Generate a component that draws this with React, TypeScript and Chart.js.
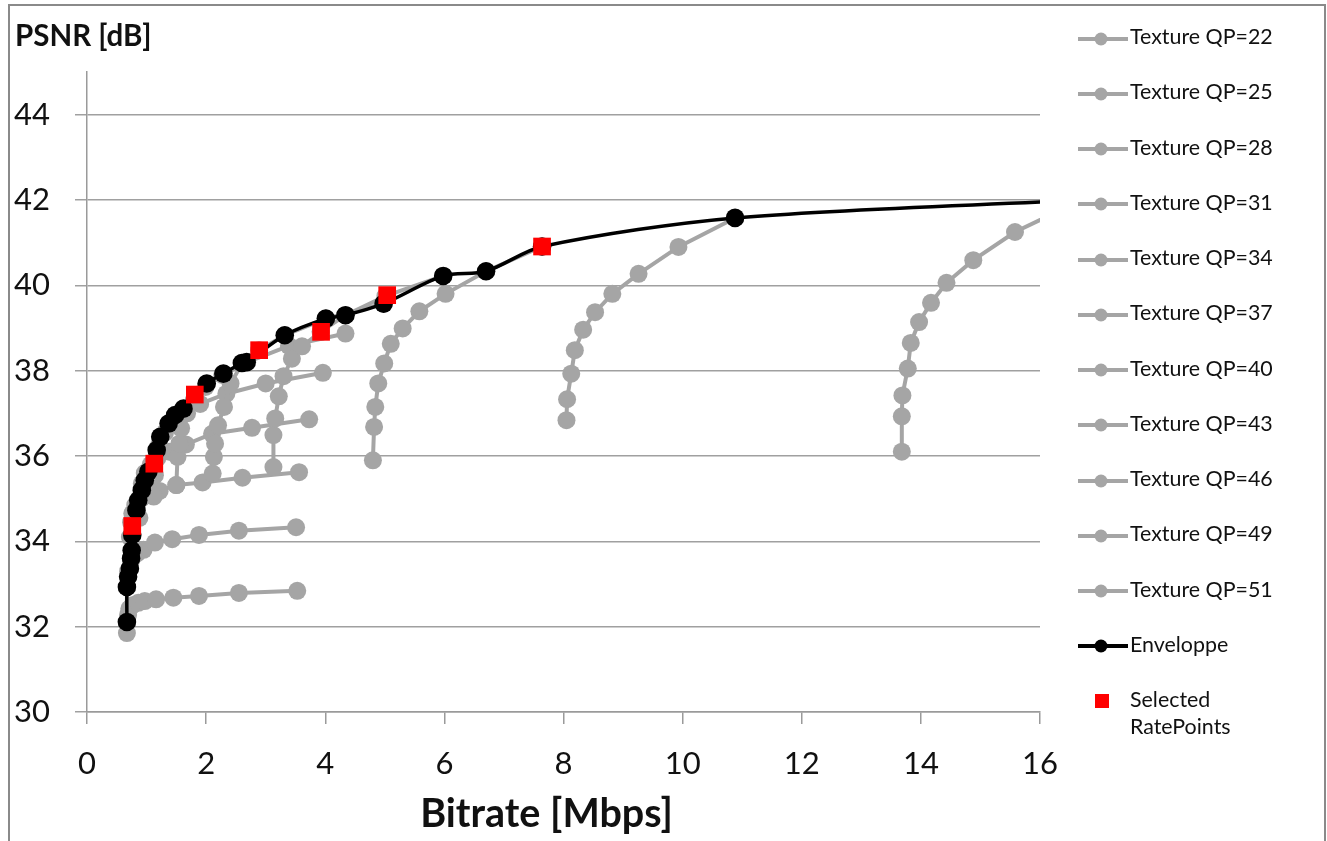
import React, { useEffect, useRef } from "react";
import { Chart, registerables } from "chart.js";

Chart.register(...registerables);

const W = 1327;
const H = 841;
const FONT = "Lato, 'Open Sans', 'DejaVu Sans', sans-serif";
const GRAY = "#a5a5a5";

// ---- data (Bitrate [Mbps], PSNR [dB]) ----
const xTickStep = 2;
const yTickStep = 2;

const qp22X = [13.68, 13.68, 13.69, 13.78, 13.83, 13.97, 14.17, 14.43, 14.88, 15.58, 16.7];
const qp22Y = [36.1, 36.93, 37.42, 38.05, 38.65, 39.14, 39.59, 40.06, 40.59, 41.25, 42.0];

const qp25X = [8.05, 8.06, 8.13, 8.19, 8.33, 8.53, 8.82, 9.26, 9.93, 10.88];
const qp25Y = [36.84, 37.33, 37.93, 38.48, 38.96, 39.37, 39.8, 40.27, 40.9, 41.58];

const qp28X = [4.8, 4.82, 4.84, 4.89, 4.99, 5.1, 5.3, 5.58, 6.02, 6.7, 7.64];
const qp28Y = [35.9, 36.68, 37.15, 37.7, 38.17, 38.63, 38.99, 39.39, 39.8, 40.33, 40.91];

const qp31X = [3.13, 3.13, 3.16, 3.22, 3.3, 3.44, 3.61, 3.92, 4.34, 5.01, 5.98];
const qp31Y = [35.74, 36.49, 36.88, 37.4, 37.87, 38.28, 38.57, 38.91, 39.3, 39.75, 40.22];

const qp34X = [2.11, 2.13, 2.15, 2.2, 2.3, 2.41, 2.61, 2.89, 3.32, 4.01, 4.98];
const qp34Y = [35.59, 35.98, 36.29, 36.72, 37.15, 37.7, 38.18, 38.48, 38.83, 39.22, 39.57];

const qp37X = [1.5, 1.52, 1.55, 1.58, 1.68, 1.79, 1.99, 2.27, 2.69, 3.39, 4.34];
const qp37Y = [35.32, 35.98, 36.29, 36.65, 37.0, 37.3, 37.62, 37.9, 38.2, 38.58, 38.87];

const qp40X = [1.12, 1.14, 1.16, 1.21, 1.31, 1.42, 1.62, 1.9, 2.34, 3.0, 3.96];
const qp40Y = [35.05, 35.55, 35.95, 36.25, 36.55, 36.78, 37.02, 37.22, 37.46, 37.7, 37.95];

const qp43X = [0.88, 0.9, 0.92, 0.97, 1.07, 1.18, 1.38, 1.66, 2.1, 2.77, 3.73];
const qp43Y = [34.55, 35.05, 35.35, 35.6, 35.8, 35.95, 36.1, 36.27, 36.52, 36.66, 36.86];

const qp46X = [0.72, 0.74, 0.76, 0.81, 0.91, 1.02, 1.22, 1.5, 1.94, 2.61, 3.56];
const qp46Y = [34.1, 34.45, 34.65, 34.85, 35.0, 35.08, 35.18, 35.32, 35.38, 35.49, 35.62];

const qp49X = [0.67, 0.67, 0.69, 0.74, 0.84, 0.95, 1.14, 1.43, 1.88, 2.55, 3.51];
const qp49Y = [32.11, 32.93, 33.3, 33.55, 33.72, 33.8, 33.97, 34.05, 34.15, 34.25, 34.33];

const qp51X = [0.67, 0.69, 0.71, 0.76, 0.86, 0.97, 1.16, 1.45, 1.88, 2.55, 3.53];
const qp51Y = [31.85, 32.28, 32.42, 32.5, 32.56, 32.6, 32.64, 32.68, 32.72, 32.79, 32.84];

const envX = [0.67, 0.67, 0.69, 0.72, 0.74, 0.75, 0.76, 0.83, 0.86, 0.92, 0.97, 1.03, 1.17, 1.23, 1.37, 1.48, 1.62, 2.01, 2.29, 2.6, 2.68, 3.32, 4.01, 4.34, 4.98, 5.98, 6.7, 7.64, 10.88, 16.7];
const envY = [32.11, 32.93, 33.17, 33.36, 33.6, 33.79, 34.15, 34.73, 34.96, 35.2, 35.43, 35.63, 36.14, 36.45, 36.76, 36.96, 37.11, 37.7, 37.93, 38.18, 38.2, 38.83, 39.22, 39.3, 39.57, 40.22, 40.33, 40.91, 41.58, 42.0];

const selX = [0.76, 1.13, 1.81, 2.89, 3.93, 5.04, 7.64];
const selY = [34.36, 35.82, 37.44, 38.48, 38.91, 39.77, 40.91];

const textureLabels = [
  "Texture QP=22", "Texture QP=25", "Texture QP=28", "Texture QP=31", "Texture QP=34", "Texture QP=37",
  "Texture QP=40", "Texture QP=43", "Texture QP=46", "Texture QP=49", "Texture QP=51",
];
const textureX = [qp22X, qp25X, qp28X, qp31X, qp34X, qp37X, qp40X, qp43X, qp46X, qp49X, qp51X];
const textureY = [qp22Y, qp25Y, qp28Y, qp31Y, qp34Y, qp37Y, qp40Y, qp43Y, qp46Y, qp49Y, qp51Y];
const envLabel = "Enveloppe";
const selLabel = ["Selected", "RatePoints"];
const xTitle = "Bitrate [Mbps]";
const yTitle = "PSNR [dB]";

function pts(xs: number[], ys: number[]) {
  return xs.map((x, i) => ({ x, y: ys[i] }));
}

// ---- layout ----
const AREA_LEFT = 87;
const AREA_RIGHT = 1040;
const AREA_TOP = 72;
const AREA_BOTTOM = 712;
const LEG_X = 1078;
const LEG_BASE0 = 45;
const LEG_STEP = 55.27;
const LEG_FONT = 21.4;

export default function App() {
  const ref = useRef<HTMLCanvasElement>(null);

  useEffect(() => {
    const grayDatasets = textureLabels.map((label, i) => ({
      label,
      data: pts(textureX[i], textureY[i]),
      borderColor: GRAY,
      backgroundColor: GRAY,
      borderWidth: 4,
      pointRadius: 9,
      pointBorderWidth: 0,
      pointBackgroundColor: GRAY,
      tension: 0,
      order: 2 + i,
    }));
    const chart = new Chart(ref.current as HTMLCanvasElement, {
      type: "line",
      data: {
        datasets: [
          {
            label: selLabel.join(" "),
            data: pts(selX, selY),
            showLine: false,
            pointStyle: "rect",
            pointRadius: 12.5,
            pointBorderWidth: 0,
            pointBackgroundColor: "#ff0000",
            backgroundColor: "#ff0000",
            borderColor: "#ff0000",
            order: 0,
          },
          {
            label: envLabel,
            data: pts(envX, envY),
            borderColor: "#000000",
            backgroundColor: "#000000",
            borderWidth: 3.5,
            pointRadius: 9.3,
            pointBorderWidth: 0,
            pointBackgroundColor: "#000000",
            tension: 0.3,
            order: 1,
          },
          ...grayDatasets,
        ] as any,
      },
      options: {
        responsive: false,
        animation: false,
        events: [],
        layout: { padding: { left: 0, top: AREA_TOP, right: W - AREA_RIGHT, bottom: 0 } },
        plugins: { legend: { display: false }, tooltip: { enabled: false }, title: { display: false } },
        scales: {
          x: {
            type: "linear",
            min: 0,
            max: 16,
            ticks: {
              stepSize: xTickStep,
              autoSkip: false,
              maxRotation: 0,
              font: { family: FONT, size: 31 },
              color: "#111111",
              padding: 21,
            },
            grid: { drawOnChartArea: false, drawTicks: true, tickLength: 12, color: "#9a9a9a", lineWidth: 1.5 },
            border: { color: "#9a9a9a", width: 1.5 },
            afterFit: (s: any) => {
              s.height = H - AREA_BOTTOM;
            },
          },
          y: {
            type: "linear",
            min: 30,
            max: 45,
            ticks: {
              stepSize: yTickStep,
              includeBounds: false,
              font: { family: FONT, size: 31 },
              color: "#111111",
              padding: 25,
            },
            grid: { color: "#a0a0a0", lineWidth: 1.5, tickLength: 12, drawTicks: true },
            border: { color: "#9a9a9a", width: 1.5 },
            afterFit: (s: any) => {
              s.width = AREA_LEFT;
            },
          },
        },
      } as any,
    });
    return () => chart.destroy();
  }, []);

  const textStyle = (left: number, baseline: number, size: number, bold = false): React.CSSProperties => ({
    position: "absolute",
    left,
    top: baseline - 0.887 * size,
    fontFamily: FONT,
    fontSize: size,
    fontWeight: bold ? 700 : 400,
    lineHeight: `${size}px`,
    whiteSpace: "nowrap",
    color: "#111111",
  });

  const legendRows = textureLabels.map((label, i) => {
    const base = LEG_BASE0 + LEG_STEP * i;
    return (
      <React.Fragment key={label}>
        <svg style={{ position: "absolute", left: LEG_X, top: base - 6.5 - 8 }} width={50} height={16}>
          <line x1={0} y1={8} x2={50} y2={8} stroke={GRAY} strokeWidth={4} />
          <circle cx={23} cy={8} r={6.5} fill={GRAY} />
        </svg>
        <div style={textStyle(1130, base, LEG_FONT)}>{label}</div>
      </React.Fragment>
    );
  });
  const envBase = LEG_BASE0 + LEG_STEP * 11;
  const selBase = 708.3;

  return (
    <div style={{ position: "absolute", left: 0, top: 0, width: W, height: H, overflow: "hidden", background: "#ffffff" }}>
      <div
        style={{
          position: "absolute",
          left: 8,
          top: 4,
          width: 1318,
          height: 1000,
          border: "2px solid #8a8a8a",
          boxSizing: "border-box",
        }}
      />
      <canvas ref={ref} width={W} height={H} style={{ position: "absolute", left: 0, top: 0, width: W, height: H }} />
      <div style={textStyle(15, 46, 29.5, true)}>{yTitle}</div>
      <div style={{ ...textStyle(0, 827, 39.5, true), left: 546.5, transform: "translateX(-50%)" }}>{xTitle}</div>
      {legendRows}
      <svg style={{ position: "absolute", left: LEG_X, top: envBase - 6.5 - 8 }} width={50} height={16}>
        <line x1={0} y1={8} x2={50} y2={8} stroke="#000000" strokeWidth={4} />
        <circle cx={23} cy={8} r={6.5} fill="#000000" />
      </svg>
      <div style={textStyle(1130, envBase, LEG_FONT)}>{envLabel}</div>
      <div style={{ position: "absolute", left: 1095, top: 693.5, width: 14, height: 14, background: "#ff0000" }} />
      <div style={textStyle(1130, selBase, LEG_FONT)}>{selLabel[0]}</div>
      <div style={textStyle(1130, selBase + 26.7, LEG_FONT)}>{selLabel[1]}</div>
    </div>
  );
}
